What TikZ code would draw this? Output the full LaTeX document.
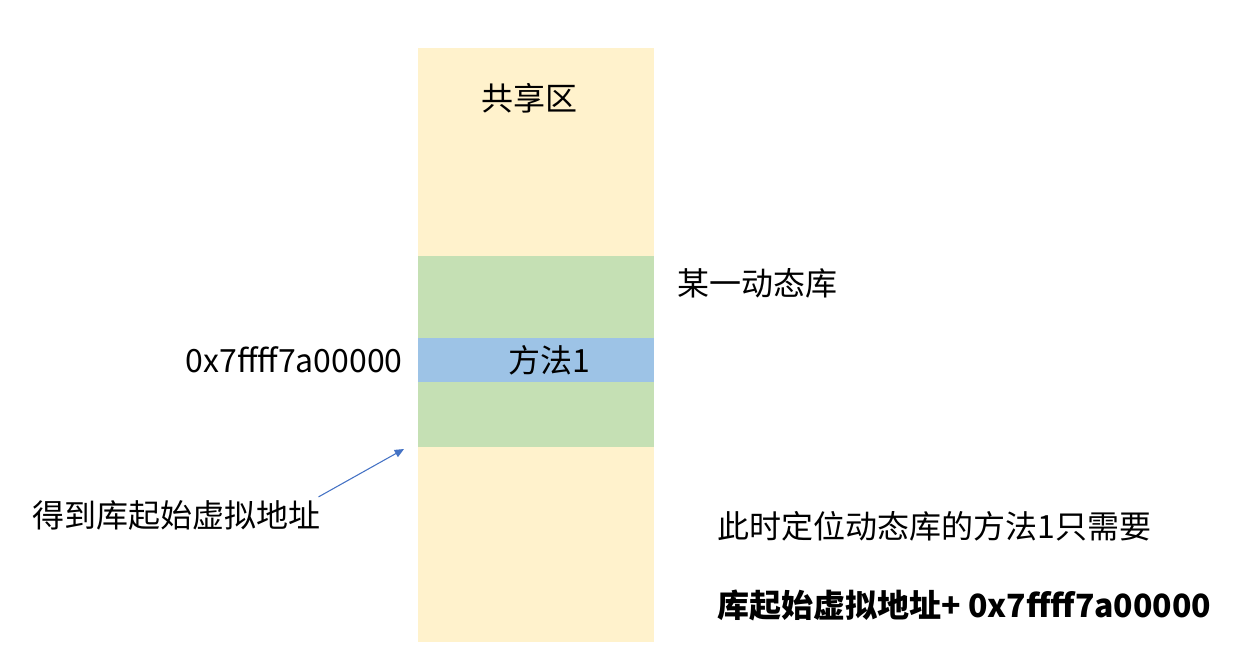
\documentclass[tikz,border=0pt]{standalone}
\usepackage{fontspec}
\setmainfont{Noto Sans CJK SC}
\usetikzlibrary{arrows.meta}
\definecolor{shareyellow}{HTML}{FFF2CC}
\definecolor{libgreen}{HTML}{C5E0B4}
\definecolor{methodblue}{HTML}{9DC3E6}
\definecolor{arrowblue}{HTML}{4472C4}
\begin{document}
\begin{tikzpicture}[x=0.75pt, y=-0.75pt,
		lbl/.style={inner sep=0pt, font=\fontsize{24}{29}\selectfont},
		pointer/.style={draw=arrowblue, line width=0.8pt, -{Triangle[length=7pt, width=6pt]}}]
		\useasboundingbox (0,0) rectangle (1248,665);
		% memory column
		\fill[shareyellow] (418,48) rectangle (654,642);
		\fill[libgreen] (418,256) rectangle (654,447);
		\fill[methodblue] (418,338) rectangle (654,382);
		\coordinate (libbase) at (404,449);
		% labels
		\node[lbl] (share) at (529,98) {共享区};
		\node[lbl] (lib) at (757,283) {某一动态库};
		\node[lbl] (method) at (549,360) {方法1};
		\node[lbl, anchor=east] (offset) at (403,360) {0x7ffff7a00000};
		\node[lbl, anchor=west] (base) at (32,515) {得到库起始虚拟地址};
		\node[lbl, anchor=west] (note) at (717,526) {此时定位动态库的方法1只需要};
		\node[lbl, anchor=west, font=\fontsize{24}{29}\selectfont\bfseries] (formula) at (717,605) {库起始虚拟地址+ 0x7ffff7a00000};
		\draw[pointer] (base.north east) ++(-2,-3) -- (libbase);
	\end{tikzpicture}
\end{document}
